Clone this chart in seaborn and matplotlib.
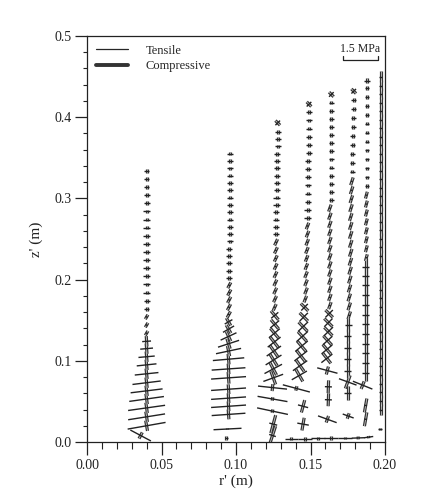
import numpy as np
import pandas as pd
import matplotlib
matplotlib.use("Agg")
import matplotlib.pyplot as plt
from matplotlib.lines import Line2D
from matplotlib.ticker import MultipleLocator, FormatStrFormatter
import seaborn as sns

# ---------------- data: principal stresses at mesh nodes ----------------
# each column: r (m), z (m), tensile magnitude T (MPa), compressive magnitude C (MPa),
# direction of tensile stress (deg); compressive is perpendicular.

colA_z = [0.008, 0.020, 0.031, 0.042, 0.053, 0.063, 0.073, 0.084, 0.095, 0.105, 0.115, 0.124,
          0.134, 0.144, 0.154, 0.164, 0.174, 0.184, 0.194, 0.204, 0.214, 0.224, 0.234, 0.244,
          0.254, 0.264, 0.274, 0.284, 0.294, 0.304, 0.314, 0.324, 0.334]
colA_r = [0.036, 0.040, 0.040, 0.040, 0.040, 0.040, 0.040, 0.040, 0.040, 0.040, 0.040, 0.040,
          0.040, 0.040, 0.040, 0.040, 0.040, 0.040, 0.040, 0.040, 0.040, 0.040, 0.040, 0.040,
          0.040, 0.040, 0.040, 0.040, 0.040, 0.040, 0.040, 0.040, 0.040]
colA_T = [1.00, 1.65, 1.60, 1.60, 1.50, 1.38, 1.22, 1.02, 0.85, 0.70, 0.55, 0.38,
          0.08, 0.08, 0.08, 0.24, 0.26, 0.27, 0.27, 0.27, 0.28, 0.28, 0.28, 0.28,
          0.28, 0.28, 0.27, 0.27, 0.26, 0.25, 0.24, 0.22, 0.20]
colA_C = [0.30, 0.45, 0.45, 0.45, 0.45, 0.45, 0.45, 0.45, 0.45, 0.45, 0.45, 0.45,
          0.22, 0.22, 0.22, 0.16, 0.16, 0.16, 0.16, 0.16, 0.16, 0.16, 0.16, 0.16,
          0.16, 0.16, 0.16, 0.16, 0.16, 0.16, 0.16, 0.15, 0.15]
colA_ang = [-28, 10, 9, 8, 8, 7, 7, 6, 6, 5, 5, 4,
            -30, -30, -30, 0, 0, 0, 0, 0, 0, 0, 0, 0,
            0, 0, 0, 0, 0, 0, 0, 0, 0]

colB_z = [0.005, 0.016, 0.034, 0.044, 0.054, 0.065, 0.079, 0.090, 0.102, 0.112, 0.121, 0.130,
          0.139, 0.148, 0.157, 0.166, 0.175, 0.184, 0.193, 0.202, 0.211, 0.220, 0.229, 0.238,
          0.247, 0.256, 0.265, 0.274, 0.283, 0.292, 0.301, 0.310, 0.319, 0.328, 0.337, 0.346, 0.355]
colB_r = [0.0935, 0.0943, 0.095, 0.095, 0.095, 0.095, 0.095, 0.095, 0.095, 0.095, 0.095, 0.095,
          0.095, 0.095, 0.0952, 0.0953, 0.0954, 0.0955, 0.0955, 0.0955, 0.0955, 0.0955, 0.0956, 0.0956,
          0.0957, 0.0957, 0.0958, 0.0958, 0.0959, 0.0959, 0.096, 0.096, 0.096, 0.096, 0.096, 0.096, 0.096]
colB_T = [0.15, 1.20, 1.45, 1.50, 1.50, 1.50, 1.50, 1.45, 1.35, 1.10, 0.95, 0.75,
          0.55, 0.38, 0.10, 0.10, 0.10, 0.10, 0.10, 0.26, 0.26, 0.26, 0.26, 0.26,
          0.26, 0.26, 0.26, 0.26, 0.26, 0.25, 0.25, 0.25, 0.24, 0.24, 0.23, 0.22, 0.22]
colB_C = [0.15, 0.05, 0.42, 0.42, 0.42, 0.42, 0.50, 0.45, 0.45, 0.45, 0.45, 0.45,
          0.40, 0.38, 0.30, 0.30, 0.30, 0.30, 0.28, 0.16, 0.16, 0.16, 0.16, 0.16,
          0.16, 0.16, 0.16, 0.16, 0.16, 0.16, 0.16, 0.16, 0.15, 0.15, 0.15, 0.15, 0.15]
colB_ang = [0, 3, 4, 4, 4, 4, 4, 4, 5, 12, 18, 25,
            30, 30, -28, -28, -28, -28, -28, 0, 0, 0, 0, 0,
            0, 0, 0, 0, 0, 0, 0, 0, 0, 0, 0, 0, 0]

colC_z = [0.008, 0.022, 0.038, 0.053, 0.067, 0.079, 0.090, 0.101, 0.112, 0.123, 0.134, 0.145,
          0.156, 0.166, 0.176, 0.186, 0.196, 0.206, 0.216, 0.226, 0.236, 0.246, 0.256, 0.265,
          0.274, 0.283, 0.292, 0.301, 0.310, 0.319, 0.328, 0.337, 0.346, 0.355, 0.364, 0.373,
          0.382, 0.393]
colC_r = [0.1245, 0.125, 0.1245, 0.1245, 0.1245, 0.125, 0.125, 0.1252, 0.1254, 0.1256, 0.1258, 0.126,
          0.126, 0.126, 0.1262, 0.1263, 0.1264, 0.1265, 0.1266, 0.1267, 0.1268, 0.1269, 0.127, 0.127,
          0.127, 0.127, 0.1272, 0.1272, 0.1274, 0.1274, 0.1275, 0.1276, 0.1277, 0.1278, 0.1279, 0.128,
          0.128, 0.128]
colC_T = [0.30, 0.35, 1.35, 1.30, 1.25, 0.90, 0.85, 0.80, 0.75, 0.70, 0.60, 0.50,
          0.40, 0.08, 0.08, 0.08, 0.08, 0.08, 0.08, 0.08, 0.08, 0.08, 0.26, 0.26,
          0.26, 0.26, 0.26, 0.26, 0.26, 0.26, 0.26, 0.26, 0.26, 0.26, 0.26, 0.26,
          0.26, 0.28]
colC_C = [0.85, 0.80, 0.15, 0.15, 0.30, 0.60, 0.60, 0.60, 0.60, 0.60, 0.55, 0.50,
          0.50, 0.30, 0.30, 0.30, 0.30, 0.30, 0.30, 0.30, 0.30, 0.30, 0.16, 0.16,
          0.16, 0.16, 0.16, 0.16, 0.16, 0.16, 0.16, 0.16, 0.16, 0.16, 0.16, 0.16,
          0.16, 0.28]
colC_ang = [-18, -15, -12, -10, -6, 20, 28, 32, 35, 38, 40, 40,
            40, -25, -25, -25, -25, -25, -25, -25, -25, -25, 0, 0,
            0, 0, 0, 0, 0, 0, 0, 0, 0, 0, 0, 0,
            0, 45]

colD_z = [0.022, 0.044, 0.066, 0.082, 0.094, 0.106, 0.118, 0.130, 0.142, 0.154, 0.166,
          0.176, 0.186, 0.196, 0.206, 0.216, 0.226, 0.236, 0.246, 0.256, 0.266,
          0.276, 0.286, 0.296, 0.306, 0.316, 0.326, 0.336, 0.346, 0.356, 0.366, 0.376,
          0.386, 0.396, 0.406, 0.416]
colD_r = [0.145, 0.145, 0.1405, 0.1425, 0.143, 0.1435, 0.144, 0.1445, 0.145, 0.1455, 0.146,
          0.1465, 0.147, 0.147, 0.147, 0.1472, 0.1474, 0.1476, 0.1478, 0.148, 0.148,
          0.148, 0.148, 0.1482, 0.1482, 0.1484, 0.1484, 0.1486, 0.1486, 0.1488, 0.1488, 0.149,
          0.149, 0.149, 0.149, 0.149]
colD_T = [0.50, 0.45, 1.20, 0.75, 0.75, 0.70, 0.70, 0.65, 0.60, 0.50, 0.40,
          0.08, 0.08, 0.08, 0.08, 0.08, 0.08, 0.08, 0.08, 0.08, 0.08,
          0.26, 0.26, 0.26, 0.26, 0.26, 0.26, 0.26, 0.26, 0.26, 0.26, 0.26,
          0.26, 0.26, 0.26, 0.28]
colD_C = [0.55, 0.55, 0.20, 0.60, 0.60, 0.60, 0.60, 0.55, 0.55, 0.50, 0.45,
          0.30, 0.30, 0.30, 0.30, 0.30, 0.30, 0.30, 0.30, 0.30, 0.30,
          0.16, 0.16, 0.16, 0.16, 0.16, 0.16, 0.16, 0.16, 0.16, 0.16, 0.16,
          0.16, 0.16, 0.16, 0.28]
colD_ang = [-10, -15, -15, 30, 35, 38, 40, 42, 44, 45, 45,
            -22, -22, -22, -22, -22, -22, -22, -22, -22, -22,
            0, 0, 0, 0, 0, 0, 0, 0, 0, 0, 0,
            0, 0, 0, 45]

colE_z = [0.028, 0.052, 0.068, 0.088, 0.103, 0.114, 0.125, 0.136, 0.147, 0.158,
          0.168, 0.178, 0.188, 0.198, 0.208, 0.218, 0.228, 0.238, 0.248, 0.258, 0.268, 0.278, 0.288,
          0.298, 0.308, 0.318, 0.328, 0.338, 0.348, 0.358, 0.368, 0.378, 0.388, 0.398, 0.408, 0.418, 0.428]
colE_r = [0.1613, 0.162, 0.162, 0.1613, 0.161, 0.161, 0.1615, 0.162, 0.162, 0.1625,
          0.163, 0.163, 0.163, 0.163, 0.163, 0.163, 0.163, 0.163, 0.163, 0.163, 0.163, 0.163, 0.163,
          0.164, 0.164, 0.164, 0.164, 0.164, 0.164, 0.164, 0.164, 0.164, 0.164, 0.164, 0.164, 0.164, 0.164]
colE_T = [0.85, 0.30, 0.30, 0.90, 0.60, 0.60, 0.55, 0.55, 0.50, 0.45,
          0.08, 0.08, 0.08, 0.08, 0.08, 0.08, 0.08, 0.08, 0.08, 0.08, 0.08, 0.08, 0.08,
          0.24, 0.24, 0.24, 0.24, 0.24, 0.24, 0.24, 0.24, 0.24, 0.24, 0.24, 0.24, 0.24, 0.28]
colE_C = [0.30, 0.55, 0.55, 0.35, 0.55, 0.55, 0.55, 0.50, 0.50, 0.45,
          0.32, 0.32, 0.32, 0.32, 0.32, 0.32, 0.32, 0.32, 0.32, 0.32, 0.32, 0.32, 0.32,
          0.16, 0.16, 0.16, 0.16, 0.16, 0.16, 0.16, 0.16, 0.16, 0.16, 0.16, 0.16, 0.16, 0.28]
colE_ang = [-20, -2, -2, -15, 38, 40, 42, 44, 45, 45,
            -20, -20, -20, -20, -20, -20, -20, -20, -20, -20, -20, -20, -20,
            0, 0, 0, 0, 0, 0, 0, 0, 0, 0, 0, 0, 0, 45]

colF_z = [0.032, 0.060, 0.074, 0.088, 0.102, 0.116, 0.130, 0.144,
          0.156, 0.167, 0.178, 0.189, 0.200, 0.211, 0.222, 0.233, 0.244, 0.255, 0.266, 0.277,
          0.288, 0.299, 0.310, 0.321,
          0.333, 0.344, 0.355, 0.366, 0.377, 0.388, 0.399, 0.410, 0.421, 0.432]
colF_r = [0.1753, 0.175, 0.175, 0.175, 0.175, 0.175, 0.175, 0.1755,
          0.176, 0.176, 0.176, 0.1762, 0.1764, 0.1766, 0.1768, 0.177, 0.177, 0.177, 0.177, 0.177,
          0.1772, 0.1774, 0.1776, 0.1778,
          0.178, 0.178, 0.178, 0.1782, 0.1784, 0.1786, 0.1788, 0.179, 0.179, 0.179]
colF_T = [0.50, 0.30, 0.80, 0.30, 0.30, 0.30, 0.30, 0.30,
          0.08, 0.08, 0.08, 0.08, 0.08, 0.08, 0.08, 0.08, 0.08, 0.08, 0.08, 0.08,
          0.08, 0.08, 0.08, 0.08,
          0.22, 0.22, 0.22, 0.22, 0.22, 0.22, 0.22, 0.22, 0.22, 0.28]
colF_C = [0.25, 0.60, 0.60, 0.60, 0.60, 0.60, 0.60, 0.60,
          0.35, 0.35, 0.35, 0.35, 0.35, 0.35, 0.35, 0.35, 0.35, 0.35, 0.35, 0.35,
          0.35, 0.35, 0.35, 0.35,
          0.16, 0.16, 0.16, 0.16, 0.16, 0.16, 0.16, 0.16, 0.16, 0.28]
colF_ang = [-20, 0, -20, 0, 0, 0, 0, 0,
            -18, -18, -18, -18, -18, -18, -18, -18, -18, -18, -18, -18,
            -18, -18, -18, -18,
            0, 0, 0, 0, 0, 0, 0, 0, 0, 45]

colG_z = [0.028, 0.045, 0.070,
          0.085, 0.097, 0.109, 0.121, 0.133, 0.145, 0.157, 0.169, 0.181, 0.193, 0.205, 0.216,
          0.227, 0.238, 0.249, 0.260, 0.271, 0.282, 0.293, 0.304,
          0.315, 0.326, 0.337, 0.348, 0.359, 0.370, 0.381, 0.392, 0.403, 0.414, 0.425, 0.436, 0.445]
colG_r = [0.187, 0.187, 0.185,
          0.187, 0.187, 0.187, 0.187, 0.187, 0.187, 0.187, 0.187, 0.187, 0.187, 0.187, 0.187,
          0.1875, 0.1875, 0.1875, 0.1875, 0.1875, 0.1875, 0.1875, 0.1875,
          0.188, 0.188, 0.188, 0.188, 0.188, 0.188, 0.188, 0.188, 0.188, 0.188, 0.188, 0.188, 0.188]
colG_T = [0.12, 0.12, 0.90,
          0.28, 0.28, 0.28, 0.28, 0.28, 0.28, 0.28, 0.28, 0.28, 0.28, 0.28, 0.28,
          0.08, 0.08, 0.08, 0.08, 0.08, 0.08, 0.08, 0.08,
          0.20, 0.20, 0.20, 0.20, 0.20, 0.20, 0.20, 0.20, 0.20, 0.20, 0.20, 0.20, 0.24]
colG_C = [0.60, 0.60, 0.35,
          0.70, 0.70, 0.70, 0.70, 0.70, 0.70, 0.70, 0.70, 0.70, 0.70, 0.70, 0.70,
          0.30, 0.30, 0.30, 0.30, 0.30, 0.30, 0.30, 0.30,
          0.15, 0.15, 0.15, 0.15, 0.15, 0.15, 0.15, 0.15, 0.15, 0.15, 0.15, 0.15, 0.22]
colG_ang = [-10, -10, -22,
            0, 0, 0, 0, 0, 0, 0, 0, 0, 0, 0, 0,
            -15, -15, -15, -15, -15, -15, -15, -15,
            0, 0, 0, 0, 0, 0, 0, 0, 0, 0, 0, 0, 0]

colH_z = [0.016, 0.040, 0.051, 0.061, 0.072, 0.082, 0.093, 0.103, 0.114, 0.124, 0.135, 0.145,
          0.156, 0.166, 0.177, 0.187, 0.198, 0.208, 0.219, 0.229, 0.240, 0.250, 0.261, 0.271,
          0.282, 0.292, 0.303, 0.313, 0.324, 0.334, 0.345, 0.355, 0.366, 0.376, 0.387, 0.397,
          0.408, 0.418, 0.429, 0.439, 0.450]
colH_r = [0.1965, 0.197, 0.197, 0.197, 0.197, 0.197, 0.197, 0.197, 0.197, 0.197, 0.197, 0.197,
          0.197, 0.197, 0.197, 0.197, 0.197, 0.197, 0.197, 0.197, 0.197, 0.197, 0.197, 0.197,
          0.197, 0.197, 0.197, 0.197, 0.197, 0.197, 0.197, 0.197, 0.197, 0.197, 0.197, 0.197,
          0.197, 0.197, 0.197, 0.197, 0.197]
colH_T = [0.15, 0.12, 0.12, 0.12, 0.12, 0.12, 0.12, 0.12, 0.12, 0.12, 0.12, 0.12,
          0.12, 0.12, 0.12, 0.12, 0.12, 0.12, 0.12, 0.12, 0.12, 0.12, 0.12, 0.12,
          0.12, 0.12, 0.12, 0.12, 0.12, 0.12, 0.12, 0.12, 0.12, 0.12, 0.12, 0.12,
          0.12, 0.12, 0.12, 0.12, 0.12]
colH_C = [0.12, 0.50, 0.50, 0.50, 0.50, 0.50, 0.50, 0.50, 0.50, 0.50, 0.50, 0.50,
          0.50, 0.50, 0.50, 0.50, 0.50, 0.50, 0.50, 0.50, 0.50, 0.50, 0.50, 0.50,
          0.50, 0.50, 0.50, 0.50, 0.50, 0.50, 0.50, 0.50, 0.50, 0.50, 0.50, 0.50,
          0.50, 0.50, 0.50, 0.50, 0.50]
colH_ang = [0, 0, 0, 0, 0, 0, 0, 0, 0, 0, 0, 0,
            0, 0, 0, 0, 0, 0, 0, 0, 0, 0, 0, 0,
            0, 0, 0, 0, 0, 0, 0, 0, 0, 0, 0, 0,
            0, 0, 0, 0, 0]

bot_r = [0.137, 0.146, 0.155, 0.164, 0.173, 0.182, 0.189]
bot_z = [0.004, 0.004, 0.0045, 0.005, 0.005, 0.005, 0.006]
bot_T = [0.55, 0.60, 0.60, 0.60, 0.60, 0.55, 0.40]
bot_C = [0.12, 0.15, 0.15, 0.15, 0.12, 0.12, 0.10]
bot_ang = [0, 0, 0, 0, 0, 2, 8]

x_ticks = [0.00, 0.05, 0.10, 0.15, 0.20]
y_ticks = [0.0, 0.1, 0.2, 0.3, 0.4, 0.5]
scale_mpa = 1.5

columns = [
    (colA_r, colA_z, colA_T, colA_C, colA_ang),
    (colB_r, colB_z, colB_T, colB_C, colB_ang),
    (colC_r, colC_z, colC_T, colC_C, colC_ang),
    (colD_r, colD_z, colD_T, colD_C, colD_ang),
    (colE_r, colE_z, colE_T, colE_C, colE_ang),
    (colF_r, colF_z, colF_T, colF_C, colF_ang),
    (colG_r, colG_z, colG_T, colG_C, colG_ang),
    (colH_r, colH_z, colH_T, colH_C, colH_ang),
    (bot_r, bot_z, bot_T, bot_C, bot_ang),
]

# ---------------- figure ----------------
sns.set_theme(style="ticks")
plt.rcParams['font.family'] = ['Liberation Serif', 'DejaVu Serif']

W_IN, H_IN, DPI = 4.38, 5.01, 100
fig = plt.figure(figsize=(W_IN, H_IN), dpi=DPI)
pos = [87 / 438, (501 - 442) / 501, 298 / 438, 406 / 501]
ax = fig.add_axes(pos)
ax.set_xlim(0, 0.2)
ax.set_ylim(0, 0.5)

ax_w_px = pos[2] * W_IN * DPI
ax_h_px = pos[3] * H_IN * DPI
px_per_mpa = 35.0 / 1.5
mx = 0.2 / ax_w_px * px_per_mpa   # metres of r per MPa
mz = 0.5 / ax_h_px * px_per_mpa   # metres of z per MPa

rows = []
seg = 0
for rs, zs, Ts, Cs, angs in columns:
    for r, z, T, C, a in zip(rs, zs, Ts, Cs, angs):
        for kind, L, th in (("Compressive", C, a + 90), ("Tensile", T, a)):
            dx = 0.5 * L * np.cos(np.radians(th)) * mx
            dz = 0.5 * L * np.sin(np.radians(th)) * mz
            rows.append(dict(seg=seg, kind=kind, x=r - dx, y=z - dz))
            rows.append(dict(seg=seg, kind=kind, x=r + dx, y=z + dz))
            seg += 1
df = pd.DataFrame(rows)
comp = df[df.kind == "Compressive"]
tens = df[df.kind == "Tensile"]

# compressive: drawn as a double line (dark outline with a light core)
sns.lineplot(data=comp, x="x", y="y", units="seg", estimator=None, sort=False,
             color="#333333", lw=2.3, solid_capstyle="butt", legend=False, ax=ax)
sns.lineplot(data=comp, x="x", y="y", units="seg", estimator=None, sort=False,
             color="#d0d0d0", lw=0.55, solid_capstyle="butt", legend=False, ax=ax)
# tensile: thin single line
sns.lineplot(data=tens, x="x", y="y", units="seg", estimator=None, sort=False,
             color="#222222", lw=1.0, solid_capstyle="butt", legend=False, ax=ax)

# axes styling
for s in ax.spines.values():
    s.set_linewidth(0.9)
    s.set_color("#222222")
    s.set_visible(True)
ax.set_xticks(x_ticks)
ax.set_yticks(y_ticks)
ax.xaxis.set_minor_locator(MultipleLocator(0.01))
ax.yaxis.set_minor_locator(MultipleLocator(0.02))
ax.xaxis.set_major_formatter(FormatStrFormatter("%.2f"))
ax.yaxis.set_major_formatter(FormatStrFormatter("%.1f"))
ax.tick_params(axis="x", which="major", direction="out", length=9, width=0.9, pad=3,
               labelsize=10, colors="#222222")
ax.tick_params(axis="x", which="minor", direction="out", length=5, width=0.8, colors="#222222")
ax.tick_params(axis="y", which="major", direction="out", length=9, width=0.9, pad=2,
               labelsize=10, colors="#222222")
ax.tick_params(axis="y", which="minor", direction="out", length=2.8, width=0.8, colors="#222222")
ax.set_xlabel("r' (m)", fontsize=11, labelpad=2, color="#222222")
ax.set_ylabel("z' (m)", fontsize=11, labelpad=8, color="#222222")

# legend
handles = [Line2D([], [], color="#262626", lw=0.9),
           Line2D([], [], color="#333333", lw=2.8)]
ax.legend(handles, ["Tensile", "Compressive"], loc="upper left", frameon=False,
          fontsize=9, handlelength=2.6, handletextpad=1.4, labelspacing=0.25,
          borderaxespad=0.3)

# scale bar: 1.5 MPa
bx0 = 0.1715
bx1 = bx0 + scale_mpa * mx
by = 0.470
tick_h = 0.005
ax.plot([bx0, bx0, bx1, bx1], [by + tick_h, by, by, by + tick_h], color="#222222", lw=0.9)
ax.text((bx0 + bx1) / 2, by + 0.007, f"{scale_mpa} MPa", ha="center", va="bottom",
        fontsize=8.5, color="#222222")

fig.savefig("out.png", dpi=DPI)
